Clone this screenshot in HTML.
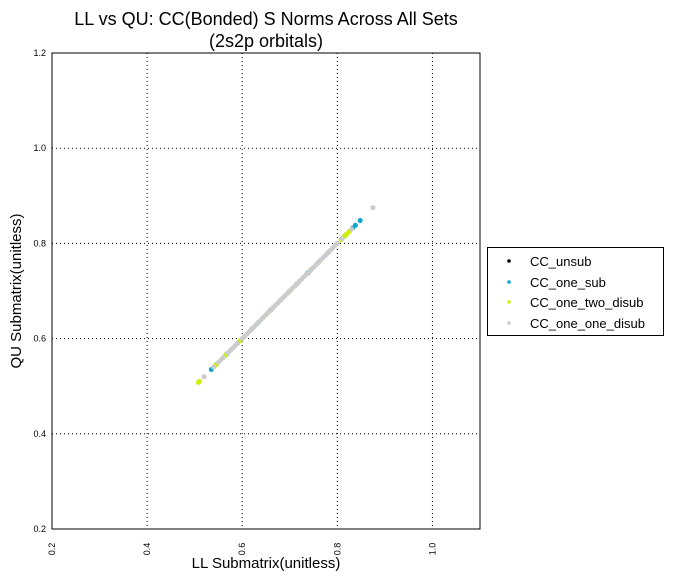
<!DOCTYPE html>
<html><head><meta charset="utf-8"><style>
body{margin:0;background:#fff;width:674px;height:581px;overflow:hidden;font-family:"Liberation Sans",sans-serif}
</style></head><body>
<svg id="chart" width="674" height="581" xmlns="http://www.w3.org/2000/svg" font-family="Liberation Sans, sans-serif">
<text x="266" y="25" font-size="18" text-anchor="middle">LL vs QU: CC(Bonded) S Norms Across All Sets</text>
<text x="266" y="47" font-size="18" text-anchor="middle">(2s2p orbitals)</text>
<g id="grid"></g>
<g id="ticks"></g>
<g id="points"></g>
<rect x="52" y="53" width="428" height="476" fill="none" stroke="#000" stroke-width="1"/>
<text x="266" y="568" font-size="15" text-anchor="middle">LL Submatrix(unitless)</text>
<text transform="translate(21,291) rotate(-90)" font-size="15" text-anchor="middle">QU Submatrix(unitless)</text>
<g>
<rect x="487.5" y="247.5" width="176" height="88" fill="#fff" stroke="#000"/>
<circle cx="509" cy="261" r="1.8" fill="#000"/><text x="530" y="266" font-size="13">CC_unsub</text>
<circle cx="509" cy="282" r="1.8" fill="#0fa5c8"/><text x="530" y="287" font-size="13">CC_one_sub</text>
<circle cx="509" cy="302" r="1.8" fill="#ccf000"/><text x="530" y="307" font-size="13">CC_one_two_disub</text>
<circle cx="509" cy="323" r="1.8" fill="#cccccc"/><text x="530" y="328" font-size="13">CC_one_one_disub</text>
</g>
</svg>
<script>
const xTicks=[0.2,0.4,0.6,0.8,1.0];
const yTicks=[0.2,0.4,0.6,0.8,1.0,1.2];
const unsubX=[0.62,0.66,0.70,0.74];
const unsubY=[0.62,0.66,0.70,0.74];
const oneSubX=[0.535,0.545,0.568,0.59,0.61,0.635,0.66,0.69,0.715,0.738,0.76,0.78,0.80,0.815,0.832,0.838,0.848];
const oneSubY=[0.535,0.545,0.568,0.59,0.61,0.635,0.66,0.69,0.715,0.738,0.76,0.78,0.80,0.815,0.832,0.838,0.848];
const twoDisubX=[0.508,0.51,0.545,0.565,0.575,0.59,0.595,0.62,0.65,0.68,0.70,0.72,0.745,0.76,0.78,0.80,0.808,0.815,0.82,0.825];
const twoDisubY=[0.508,0.51,0.545,0.565,0.575,0.59,0.595,0.62,0.65,0.68,0.70,0.72,0.745,0.76,0.78,0.80,0.808,0.815,0.82,0.825];
const oneDisubX=[0.52,0.54,0.55,0.555,0.56,0.57,0.575,0.58,0.585,0.59,0.60,0.605,0.61,0.615,0.62,0.625,0.63,0.635,0.64,0.645,0.65,0.655,0.66,0.665,0.67,0.675,0.68,0.685,0.69,0.695,0.70,0.705,0.71,0.715,0.72,0.725,0.73,0.735,0.74,0.745,0.75,0.755,0.76,0.765,0.77,0.775,0.78,0.785,0.79,0.795,0.80,0.81,0.83,0.875];
const oneDisubY=[0.52,0.54,0.55,0.555,0.56,0.57,0.575,0.58,0.585,0.59,0.60,0.605,0.61,0.615,0.62,0.625,0.63,0.635,0.64,0.645,0.65,0.655,0.66,0.665,0.67,0.675,0.68,0.685,0.69,0.695,0.70,0.705,0.71,0.715,0.72,0.725,0.73,0.735,0.74,0.745,0.75,0.755,0.76,0.765,0.77,0.775,0.78,0.785,0.79,0.795,0.80,0.81,0.83,0.875];
const NS='http://www.w3.org/2000/svg';
const X0=52,X1=480,Y0=529,Y1=53,xmin=0.2,xmax=1.1,ymin=0.2,ymax=1.2;
const sx=v=>X0+(v-xmin)/(xmax-xmin)*(X1-X0);
const sy=v=>Y0-(v-ymin)/(ymax-ymin)*(Y0-Y1);
const grid=document.getElementById('grid'),ticks=document.getElementById('ticks'),pts=document.getElementById('points');
function mk(t,a){const e=document.createElementNS(NS,t);for(const k in a)e.setAttribute(k,a[k]);return e;}
xTicks.forEach(v=>{const x=sx(v);
 const l=mk('line',{x1:x,x2:x,y1:Y1,y2:Y0,stroke:'#000','stroke-dasharray':'1,3'});
 
 
 grid.appendChild(l);
 const t=mk('text',{transform:`translate(${x+3},${Y0+20}) rotate(-90)`,'font-size':'9','text-anchor':'middle'});
 
 
 t.textContent=v.toFixed(1);ticks.appendChild(t);});
yTicks.forEach(v=>{const y=sy(v);
 if(v>ymin&&v<ymax){const l=mk('line',{x1:X0,x2:X1,y1:y,y2:y,stroke:'#000','stroke-dasharray':'1,3'});
 
 
 grid.appendChild(l);}
 const t=mk('text',{x:X0-6,y:y+3,'font-size':'9','text-anchor':'end'});
 
 
 t.textContent=v.toFixed(1);ticks.appendChild(t);});
function series(xs,ys,c,name){xs.forEach((v,i)=>{const p=mk('circle',{cx:sx(v),cy:sy(ys[i]),r:2.5,fill:c});
 
 
 pts.appendChild(p);});}
series(unsubX,unsubY,'#000','point-cc-unsub');
series(oneSubX,oneSubY,'#0fa5c8','point-cc-one-sub');
series(twoDisubX,twoDisubY,'#ccf000','point-cc-one-two-disub');
series(oneDisubX,oneDisubY,'#cccccc','point-cc-one-one-disub');
</script>
</body></html>
